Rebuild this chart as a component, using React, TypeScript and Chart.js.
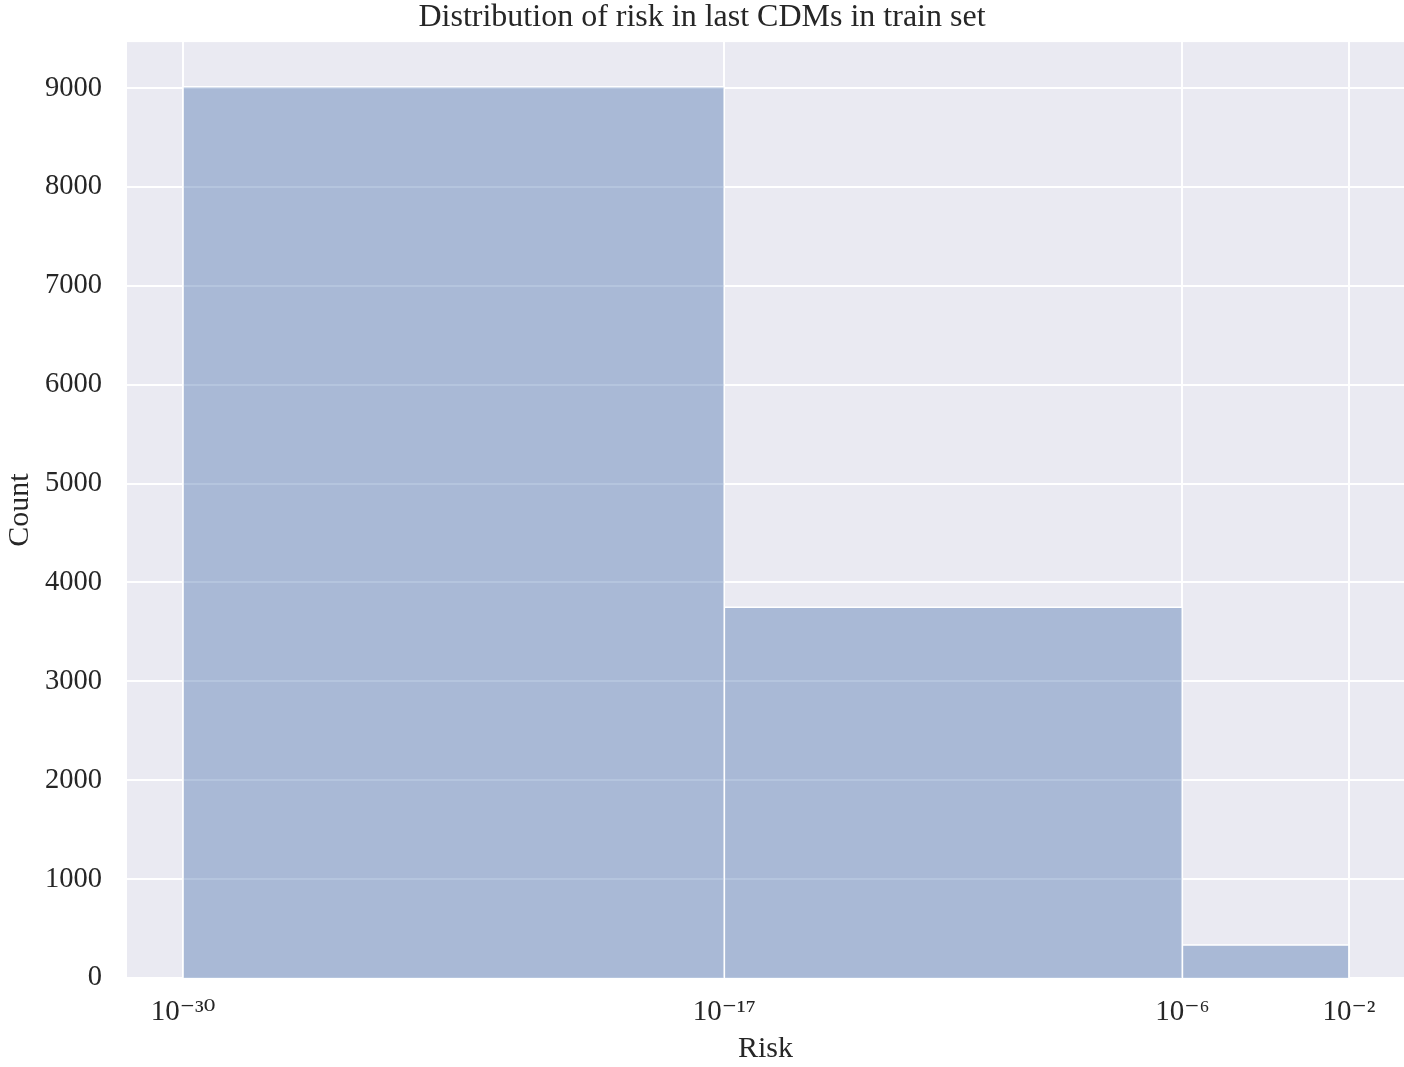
import React, { useEffect, useRef } from "react";
import { Chart, registerables } from "chart.js";

Chart.register(...registerables);

const TITLE = "Distribution of risk in last CDMs in train set";
const X_LABEL = "Risk";
const Y_LABEL = "Count";

// histogram bins (log-spaced edges) and counts
const BIN_EDGES = [1e-30, 1e-17, 1e-6, 1e-2];
const COUNTS = [9014, 3749, 334];

const X_TICKS = [1e-30, 1e-17, 1e-6, 1e-2];
const Y_TICKS = [0, 1000, 2000, 3000, 4000, 5000, 6000, 7000, 8000, 9000];

const X_MIN = Math.pow(10, -31.345);
const X_MAX = Math.pow(10, -0.677);
const Y_MIN = 0;
const Y_MAX = 9465;

const FONT = "'Liberation Serif', 'DejaVu Serif', serif";
const TEXT_COLOR = "#262626";
const AXES_BG = "#eaeaf2";
const BAR_FILL = "rgba(76,114,176,0.41)";

const SUP: Record<string, string> = {
  "-": "\u207B",
  "0": "\u2070",
  "1": "\u00B9",
  "2": "\u00B2",
  "3": "\u00B3",
  "4": "\u2074",
  "5": "\u2075",
  "6": "\u2076",
  "7": "\u2077",
  "8": "\u2078",
  "9": "\u2079",
};

function formatPow(v: number): string {
  const e = Math.round(Math.log10(v));
  return "10" + String(e).split("").map((c) => SUP[c] ?? c).join("");
}

const bgPlugin = {
  id: "axesBackground",
  beforeDraw(chart: any) {
    const { ctx, chartArea } = chart;
    ctx.save();
    ctx.fillStyle = "#ffffff";
    ctx.fillRect(0, 0, chart.width, chart.height);
    ctx.fillStyle = AXES_BG;
    ctx.fillRect(
      chartArea.left,
      chartArea.top,
      chartArea.right - chartArea.left,
      chartArea.bottom - chartArea.top
    );
    ctx.restore();
  },
};

export default function App() {
  const canvasRef = useRef<HTMLCanvasElement | null>(null);

  useEffect(() => {
    document.body.style.margin = "0";
    const canvas = canvasRef.current;
    if (!canvas) return;

    const datasets = COUNTS.map((count, i) => ({
      label: `bin ${i}`,
      data: [
        { x: BIN_EDGES[i], y: 0 },
        { x: BIN_EDGES[i], y: count },
        { x: BIN_EDGES[i + 1], y: count },
        { x: BIN_EDGES[i + 1], y: 0 },
      ],
      showLine: true,
      fill: "origin",
      backgroundColor: BAR_FILL,
      borderColor: "#ffffff",
      borderWidth: 1.5,
      pointRadius: 0,
      pointHoverRadius: 0,
      tension: 0,
    }));

    const chart = new Chart(canvas, {
      type: "scatter",
      data: { datasets: datasets as any },
      options: {
        responsive: false,
        animation: false,
        devicePixelRatio: 1,
        layout: { padding: { top: 0, left: 0, right: 0, bottom: 0 } },
        plugins: {
          legend: { display: false },
          tooltip: { enabled: false },
          title: {
            display: true,
            text: TITLE,
            color: TEXT_COLOR,
            font: { family: FONT, size: 32, weight: "normal", lineHeight: 1.1 },
            padding: { top: 0, bottom: 6.8 },
          },
        },
        scales: {
          x: {
            type: "logarithmic",
            min: X_MIN,
            max: X_MAX,
            border: { display: false },
            grid: { color: "#ffffff", lineWidth: 2, drawTicks: false },
            afterBuildTicks: (scale: any) => {
              scale.ticks = X_TICKS.map((v) => ({ value: v }));
            },
            afterFit: (scale: any) => {
              scale.height = 1067 - 978;
            },
            ticks: {
              color: TEXT_COLOR,
              font: { family: FONT, size: 29, lineHeight: 1.2 },
              padding: 17,
              maxRotation: 0,
              autoSkip: false,
              callback: (v: any) => formatPow(Number(v)),
            },
            title: {
              display: true,
              text: X_LABEL,
              color: TEXT_COLOR,
              font: { family: FONT, size: 30, lineHeight: 1.2 },
              padding: { top: 0, bottom: 0 },
            },
          },
          y: {
            type: "linear",
            min: Y_MIN,
            max: Y_MAX,
            border: { display: false },
            grid: { color: "#ffffff", lineWidth: 2, drawTicks: false },
            afterBuildTicks: (scale: any) => {
              scale.ticks = Y_TICKS.map((v) => ({ value: v }));
            },
            afterFit: (scale: any) => {
              scale.width = 127;
            },
            ticks: {
              color: TEXT_COLOR,
              font: { family: FONT, size: 28.5, lineHeight: 1.2 },
              padding: 25,
              callback: (v: any) => String(v),
            },
            title: {
              display: true,
              text: Y_LABEL,
              color: TEXT_COLOR,
              font: { family: FONT, size: 30, lineHeight: 1.2 },
              padding: { top: 2, bottom: 0 },
            },
          },
        },
      },
      plugins: [bgPlugin],
    });

    return () => {
      chart.destroy();
    };
  }, []);

  return (
    <div style={{ width: 1404, height: 1067, position: "relative" }}>
      <canvas ref={canvasRef} width={1404} height={1067} style={{ display: "block" }} />
    </div>
  );
}
